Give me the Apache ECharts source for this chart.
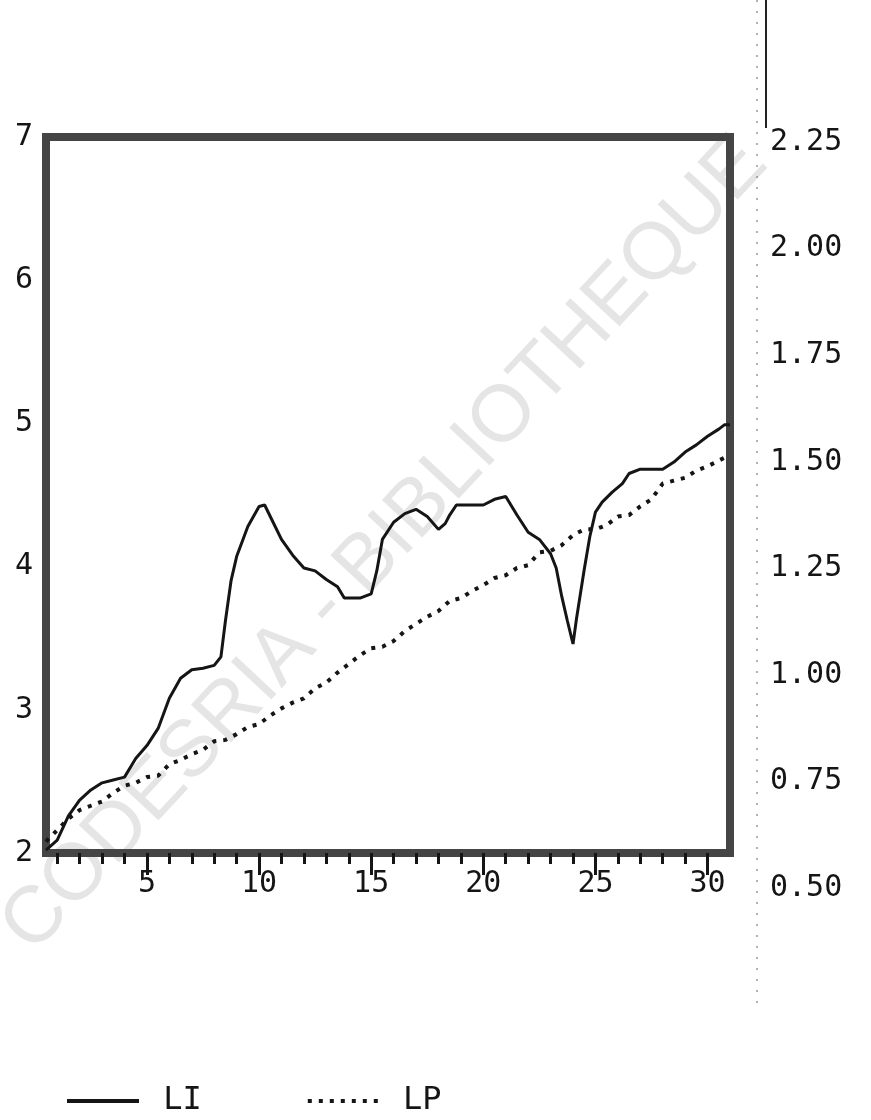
<!DOCTYPE html>
<html><head><meta charset="utf-8">
<script src="https://cdn.jsdelivr.net/npm/echarts@6/dist/echarts.min.js"></script>
<style>html,body{margin:0;padding:0;background:#fff}#c{width:871px;height:1120px}</style>
</head><body><div id="c"></div>
<script>
// LI (solid) series
const liX = [0.5,1,1.5,2,2.5,3,3.5,4,4.5,5,5.5,6,6.5,7,7.5,8,8.3,8.5,8.75,9,9.5,10,10.25,10.5,11,11.5,12,12.5,13,13.5,13.8,14.5,15,15.25,15.5,16,16.5,17,17.5,18,18.3,18.5,18.8,19.5,20,20.5,21,21.5,22,22.5,23,23.25,23.5,23.75,24,24.15,24.3,24.5,24.75,25,25.3,25.75,26.2,26.5,27,28,28.5,29,29.5,30,30.5,30.75,31];
const liV = [2.02,2.09,2.26,2.37,2.44,2.49,2.51,2.53,2.66,2.75,2.87,3.08,3.22,3.28,3.29,3.31,3.37,3.62,3.90,4.07,4.28,4.42,4.43,4.35,4.19,4.08,3.99,3.97,3.91,3.86,3.78,3.78,3.81,3.97,4.19,4.31,4.37,4.40,4.35,4.26,4.30,4.36,4.43,4.43,4.43,4.47,4.49,4.36,4.24,4.19,4.09,3.99,3.79,3.62,3.46,3.63,3.78,3.98,4.21,4.38,4.45,4.52,4.58,4.65,4.68,4.68,4.73,4.80,4.85,4.91,4.96,4.99,4.99];
// LP (dotted) series
const lpX = [0.5,1,1.5,2,2.5,3,3.5,4,4.5,5,5.5,6,6.5,7,7.5,8,8.5,9,9.5,10,10.5,11,11.5,12,12.5,13,13.5,14,14.5,15,15.5,16,16.5,17,17.5,18,18.5,19,19.5,20,20.5,21,21.5,22,22.5,23,23.5,24,24.5,25,25.5,26,26.5,27,27.5,28,28.5,29,29.5,30,30.5,31];
const lpV = [2.08,2.16,2.24,2.30,2.33,2.36,2.42,2.47,2.49,2.53,2.54,2.62,2.65,2.69,2.72,2.78,2.79,2.83,2.88,2.90,2.96,3.01,3.05,3.08,3.15,3.19,3.26,3.32,3.38,3.43,3.44,3.48,3.55,3.60,3.65,3.69,3.76,3.78,3.83,3.87,3.92,3.94,3.99,4.01,4.10,4.11,4.15,4.22,4.26,4.26,4.29,4.35,4.36,4.42,4.47,4.58,4.60,4.62,4.67,4.70,4.74,4.78];
// axis ticks / labels
const xMinorTicks = [1,2,3,4,5,6,7,8,9,10,11,12,13,14,15,16,17,18,19,20,21,22,23,24,25,26,27,28,29,30];
const xMajorTicks = [5,10,15,20,25,30];
const leftTicks = [2,3,4,5,6,7];
const rightTicks = [0.5,0.75,1.0,1.25,1.5,1.75,2.0,2.25];
const seriesNames = ['LI','LP'];
const watermark = 'CODESRIA - BIBLIOTHEQUE';

const mono = "'DejaVu Sans Mono', monospace";
const ink = '#151515';
let dots = '';
for (let i = 0; i < 7; i++) dots += 'M' + (i * 11) + ',0h4v4h-4z';
const chart = echarts.init(document.getElementById('c'), null, {renderer:'canvas'});
chart.setOption({
  backgroundColor: '#ffffff',
  animation: false,
  graphic: [
    {type: 'text', x: 385, y: 545, rotation: 0.82, z: -10, silent: true,
     style: {text: watermark, fill: '#e5e5e5', font: "80px 'Liberation Sans', sans-serif", align: 'center', verticalAlign: 'middle'}},
    {type: 'line', silent: true, z: -5, shape: {x1: 766, y1: 0, x2: 766, y2: 128}, style: {stroke: '#222', lineWidth: 2}},
    {type: 'line', silent: true, z: -5, shape: {x1: 757, y1: 0, x2: 757, y2: 1010}, style: {stroke: '#666', lineWidth: 1, lineDash: [2, 9]}}
  ],
  grid: [
    {left: 46, top: 137, right: 141, bottom: 267, show: true, borderColor: '#454545', borderWidth: 8, backgroundColor: 'transparent'},
    {left: 46, top: 142, right: 141, bottom: 232, show: false}
  ],
  xAxis: [
    {gridIndex: 0, type: 'value', min: 0.5, max: 31, position: 'bottom',
     axisLine: {show: false}, splitLine: {show: false},
     axisTick: {show: true, customValues: xMinorTicks, length: 11, lineStyle: {color: ink, width: 3}},
     axisLabel: {show: false}},
    {gridIndex: 0, type: 'value', min: 0.5, max: 31, position: 'bottom',
     axisLine: {show: false}, splitLine: {show: false},
     axisTick: {show: true, customValues: xMajorTicks, length: 22, lineStyle: {color: ink, width: 3}},
     axisLabel: {show: true, customValues: xMajorTicks, margin: 16, fontSize: 30, fontFamily: mono, color: ink}},
    {gridIndex: 1, type: 'value', min: 0, max: 1, show: false}
  ],
  yAxis: [
    {gridIndex: 0, type: 'value', min: leftTicks[0], max: leftTicks[leftTicks.length-1], interval: 1, position: 'left',
     axisLine: {show: false}, axisTick: {show: false}, splitLine: {show: false},
     axisLabel: {margin: 13, fontSize: 30, fontFamily: mono, color: ink, padding: [16, 0, 0, 0]}},
    {gridIndex: 1, type: 'value', min: rightTicks[0], max: rightTicks[rightTicks.length-1], interval: 0.25, position: 'right',
     axisLine: {show: false}, axisTick: {show: false}, splitLine: {show: false},
     axisLabel: {margin: 40, fontSize: 30, fontFamily: mono, color: ink, formatter: v => v.toFixed(2)}}
  ],
  legend: {
    left: 62, top: 1080, itemWidth: 72, itemHeight: 4, itemGap: 106,
    data: [
      {name: seriesNames[0], icon: 'path://M0,0H72V4H0Z'},
      {name: seriesNames[1], icon: 'path://' + dots}
    ],
    itemStyle: {color: ink, borderWidth: 0},
    formatter: n => ' ' + n,
    textStyle: {fontFamily: mono, fontSize: 32, color: ink}
  },
  series: [
    {name: seriesNames[0], type: 'line', xAxisIndex: 0, yAxisIndex: 0, symbol: 'none', z: 4,
     data: liX.map((x, i) => [x, liV[i]]),
     lineStyle: {color: ink, width: 3}, itemStyle: {color: ink}},
    {name: seriesNames[1], type: 'line', xAxisIndex: 0, yAxisIndex: 0, symbol: 'none', z: 3,
     data: lpX.map((x, i) => [x, lpV[i]]),
     lineStyle: {color: ink, width: 4, type: [4, 7]}, itemStyle: {color: ink}}
  ]
});
</script></body></html>
